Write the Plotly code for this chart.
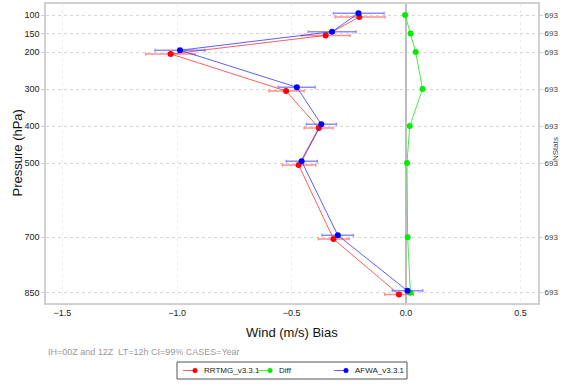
import plotly.graph_objects as go

# Pressure levels (hPa)
levels = [100, 150, 200, 300, 400, 500, 700, 850]
nstats = ["693"] * len(levels)

# RRTMG_v3.3.1 wind bias with 99% confidence interval bounds
rrtmg = [-0.204, -0.351, -1.028, -0.524, -0.381, -0.469, -0.317, -0.031]
rrtmg_lo = [-0.310, -0.455, -1.137, -0.598, -0.445, -0.540, -0.383, -0.093]
rrtmg_hi = [-0.092, -0.245, -0.921, -0.445, -0.319, -0.394, -0.248, 0.032]

# AFWA_v3.3.1 wind bias with 99% confidence interval bounds
afwa = [-0.208, -0.323, -0.987, -0.477, -0.370, -0.456, -0.298, 0.006]
afwa_lo = [-0.317, -0.427, -1.096, -0.558, -0.435, -0.523, -0.367, -0.060]
afwa_hi = [-0.096, -0.218, -0.878, -0.397, -0.304, -0.387, -0.230, 0.073]

# Difference between the two configurations
diff = [-0.004, 0.020, 0.042, 0.072, 0.016, 0.004, 0.007, 0.019]

series_names = ["RRTMG_v3.3.1", "Diff", "AFWA_v3.3.1"]

x_ticks = [-1.5, -1.0, -0.5, 0.0, 0.5]
x_range = [-1.572, 0.576]
y_range = [878, 70]

# small vertical offset so the two series do not overlap
OFFSET = 5
p_red = [p + OFFSET for p in levels]
p_blue = [p - OFFSET for p in levels]

FONT = "Liberation Sans, Arial, sans-serif"
W, H = 562, 384
ML, MR, MT, MB = 46, 24, 4, 81
PW, PH = W - ML - MR, H - MT - MB

STYLE = {
    "RRTMG_v3.3.1": dict(line="rgba(255,40,40,0.75)", marker="#ff0000", err="rgba(255,80,80,0.65)"),
    "Diff": dict(line="rgba(40,230,40,0.85)", marker="#00ee00", err=None),
    "AFWA_v3.3.1": dict(line="rgba(40,40,255,0.75)", marker="#0000ff", err="rgba(80,80,255,0.65)"),
}


def px_x(px):
    """pixel column -> paper x"""
    return (px - ML) / PW


def px_y(py):
    """pixel row -> paper y"""
    return (H - MB - py) / PH


def err_bar(vals, lo, hi, color):
    return dict(type="data", symmetric=False,
                array=[h - v for h, v in zip(hi, vals)],
                arrayminus=[v - l for v, l in zip(vals, lo)],
                color=color, thickness=1.4, width=1.5)


fig = go.Figure()

fig.add_trace(go.Scatter(
    x=rrtmg, y=p_red, mode="lines+markers", name=series_names[0],
    line=dict(color=STYLE[series_names[0]]["line"], width=1),
    marker=dict(color=STYLE[series_names[0]]["marker"], size=6),
    error_x=err_bar(rrtmg, rrtmg_lo, rrtmg_hi, STYLE[series_names[0]]["err"]),
))

fig.add_trace(go.Scatter(
    x=diff, y=levels, mode="lines+markers", name=series_names[1],
    line=dict(color=STYLE[series_names[1]]["line"], width=1),
    marker=dict(color=STYLE[series_names[1]]["marker"], size=6),
))

fig.add_trace(go.Scatter(
    x=afwa, y=p_blue, mode="lines+markers", name=series_names[2],
    line=dict(color=STYLE[series_names[2]]["line"], width=1),
    marker=dict(color=STYLE[series_names[2]]["marker"], size=6),
    error_x=err_bar(afwa, afwa_lo, afwa_hi, STYLE[series_names[2]]["err"]),
))

# invisible trace carrying the right-hand NStats axis
fig.add_trace(go.Scatter(x=[None], y=[None], yaxis="y2", showlegend=False,
                         hoverinfo="skip"))

shapes = [
    # legend frame
    dict(type="rect", xref="paper", yref="paper",
         x0=px_x(177), x1=px_x(407), y0=px_y(379), y1=px_y(362),
         line=dict(color="#555555", width=1), fillcolor="white"),
]

annotations = [
    dict(text="Pressure (hPa)", xref="paper", yref="paper", x=px_x(17), y=0.5,
         textangle=-90, showarrow=False, font=dict(size=13, color="#111111"),
         xanchor="center", yanchor="middle"),
    dict(text="Wind (m/s) Bias", xref="paper", yref="paper", x=0.5, y=px_y(332),
         showarrow=False, font=dict(size=13, color="#111111"),
         xanchor="center", yanchor="middle"),
    dict(text="IH=00Z and 12Z  LT=12h CI=99% CASES=Year", xref="paper",
         yref="paper", x=0.0, y=px_y(352), showarrow=False,
         font=dict(size=9, color="#9a9a9a"), xanchor="left", yanchor="middle"),
    dict(text="NStats", xref="paper", yref="paper", x=px_x(555), y=px_y(149),
         textangle=-90, showarrow=False, font=dict(size=8, color="#444444"),
         xanchor="center", yanchor="middle"),
]

# legend entries: short line, marker dot and label
legend_row = 370.5
legend_x = [183, 258, 334]
for name, x0 in zip(series_names, legend_x):
    st = STYLE[name]
    shapes.append(dict(type="line", xref="paper", yref="paper",
                       x0=px_x(x0), x1=px_x(x0 + 14),
                       y0=px_y(legend_row), y1=px_y(legend_row),
                       line=dict(color=st["line"], width=1)))
    r = 2.5
    shapes.append(dict(type="circle", xref="paper", yref="paper",
                       x0=px_x(x0 + 12 - r), x1=px_x(x0 + 12 + r),
                       y0=px_y(legend_row + r), y1=px_y(legend_row - r),
                       fillcolor=st["marker"], line=dict(width=0)))
    annotations.append(dict(text=name, xref="paper", yref="paper",
                            x=px_x(x0 + 19), y=px_y(legend_row),
                            showarrow=False, xanchor="left", yanchor="middle",
                            font=dict(size=8, color="#222222")))

fig.update_layout(
    width=W, height=H,
    margin=dict(l=ML, r=MR, t=MT, b=MB, autoexpand=False),
    paper_bgcolor="white", plot_bgcolor="white",
    font=dict(family=FONT, color="#222222", size=9),
    showlegend=False,
    xaxis=dict(
        range=x_range, tickvals=x_ticks,
        ticktext=["\u22121.5", "\u22121.0", "\u22120.5", "0.0", "0.5"],
        showgrid=True, gridcolor="#ededed", griddash="dot", gridwidth=1,
        zeroline=True, zerolinecolor="#bdbdbd", zerolinewidth=1.5,
        showline=True, linecolor="#d0d0d0", linewidth=1.5,
        mirror=True, ticks="", tickfont=dict(size=9, color="#222222"),
        automargin=False,
    ),
    yaxis=dict(
        range=y_range, tickvals=levels, ticktext=[str(p) for p in levels],
        showgrid=True, gridcolor="#d6d6d6", griddash="dot", gridwidth=1,
        zeroline=False, showline=True, linecolor="#d0d0d0", linewidth=1.5,
        mirror=True, ticks="outside", ticklen=3, tickcolor="#d0d0d0",
        tickfont=dict(size=9, color="#222222"), automargin=False,
    ),
    yaxis2=dict(
        range=y_range, overlaying="y", side="right", anchor="x",
        tickvals=levels, ticktext=nstats, showgrid=False, zeroline=False,
        ticks="outside", ticklen=4, tickcolor="#d0d0d0",
        tickfont=dict(size=8, color="#444444"), automargin=False,
    ),
    shapes=shapes,
    annotations=annotations,
)

fig.write_html("out.html")
